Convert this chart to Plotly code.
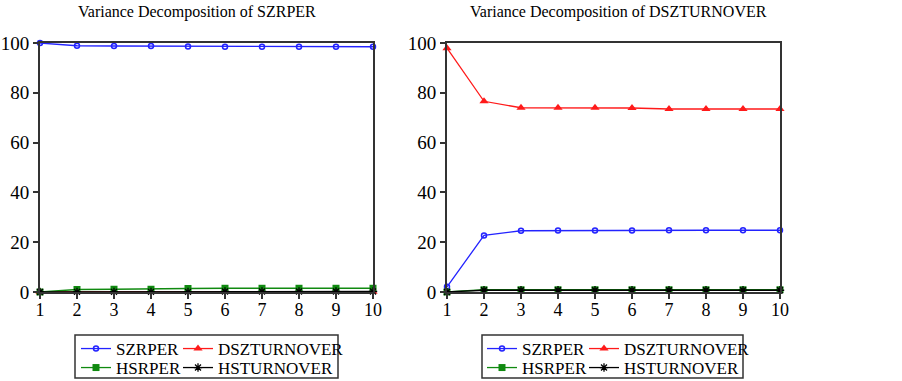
import plotly.graph_objects as go

periods = [1, 2, 3, 4, 5, 6, 7, 8, 9, 10]
series_names = ["SZRPER", "DSZTURNOVER", "HSRPER", "HSTURNOVER"]

# Variance decomposition of SZRPER
szr_szrper = [100.0, 98.9, 98.8, 98.8, 98.6, 98.5, 98.5, 98.5, 98.5, 98.5]
szr_dszturnover = [0.0, 0.05, 0.1, 0.1, 0.1, 0.1, 0.1, 0.1, 0.1, 0.1]
szr_hsrper = [0.0, 1.0, 1.1, 1.1, 1.4, 1.5, 1.5, 1.5, 1.5, 1.5]
szr_hsturnover = [0.0, 0.05, 0.05, 0.05, 0.05, 0.2, 0.2, 0.2, 0.2, 0.2]

# Variance decomposition of DSZTURNOVER
dsz_szrper = [2.1, 22.7, 24.6, 24.7, 24.7, 24.7, 24.8, 24.8, 24.8, 24.8]
dsz_dszturnover = [97.9, 76.6, 74.0, 74.0, 74.0, 73.9, 73.5, 73.5, 73.5, 73.5]
dsz_hsrper = [0.0, 0.9, 0.9, 0.9, 0.9, 0.9, 0.9, 0.9, 0.9, 0.9]
dsz_hsturnover = [0.0, 0.7, 0.7, 0.7, 0.7, 0.7, 0.7, 0.7, 0.7, 0.7]

titles = ["Variance Decomposition of SZRPER", "Variance Decomposition of DSZTURNOVER"]
y_ticks = [0, 20, 40, 60, 80, 100]

W, H = 902, 381
FONT = "Liberation Serif, Times New Roman, serif"

def px_x(p):
    return p / W

def px_y(p):
    return (H - p) / H

styles = [
    dict(color="#2323ff", marker=dict(symbol="circle-open", size=5, color="#2323ff", line=dict(width=1.5, color="#2323ff"))),
    dict(color="#ff1a1a", marker=dict(symbol="triangle-up", size=8, color="#ff1a1a")),
    dict(color="#108a10", marker=dict(symbol="square", size=7, color="#108a10")),
    dict(color="#000000", marker=dict(symbol="asterisk-open", size=7, color="#000000", line=dict(width=1.3, color="#000000"))),
]

panels = [
    [szr_szrper, szr_dszturnover, szr_hsrper, szr_hsturnover],
    [dsz_szrper, dsz_dszturnover, dsz_hsrper, dsz_hsturnover],
]

fig = go.Figure()

# one legend per entry so that the 2x2 grid can be placed exactly
legend_ids = [["legend", "legend2", "legend3", "legend4"],
              ["legend5", "legend6", "legend7", "legend8"]]

for pi, panel in enumerate(panels):
    xa = "x" if pi == 0 else "x2"
    ya = "y" if pi == 0 else "y2"
    for si, vals in enumerate(panel):
        st = styles[si]
        fig.add_trace(go.Scatter(
            x=periods, y=vals, name=series_names[si], mode="lines+markers",
            line=dict(color=st["color"], width=1.3),
            marker=st["marker"], xaxis=xa, yaxis=ya,
            legend=legend_ids[pi][si], cliponaxis=False, showlegend=True,
            hoverinfo="skip",
        ))

ydom = [px_y(292), px_y(43)]
xdoms = [[px_x(40), px_x(373)], [px_x(447), px_x(780)]]

axis_common = dict(
    showline=True, linecolor="#333333", linewidth=2, mirror=True,
    ticks="outside", ticklen=5, tickcolor="#333333", tickwidth=1.5,
    showgrid=False, zeroline=False,
)
xfont = dict(family=FONT, size=18, color="black")
yfont = dict(family=FONT, size=19, color="black")

layout = dict(
    width=W, height=H, margin=dict(l=0, r=0, t=0, b=0, autoexpand=False),
    paper_bgcolor="white", plot_bgcolor="white", showlegend=True,
    font=dict(family=FONT, size=16, color="black"),
    xaxis=dict(domain=xdoms[0], range=[1, 10], tickvals=periods, anchor="y", tickfont=xfont, ticklabelstandoff=-5, **axis_common),
    yaxis=dict(domain=ydom, range=[0, 100], tickvals=y_ticks, anchor="x", tickfont=yfont, **axis_common),
    xaxis2=dict(domain=xdoms[1], range=[1, 10], tickvals=periods, anchor="y2", tickfont=xfont, ticklabelstandoff=-5, **axis_common),
    yaxis2=dict(domain=ydom, range=[0, 100], tickvals=y_ticks, anchor="x2", tickfont=yfont, **axis_common),
)

legend_common = dict(orientation="h", bgcolor="rgba(0,0,0,0)", borderwidth=0,
                     font=dict(family=FONT, size=17, color="black"), visible=True,
                     itemwidth=30, xanchor="left", yanchor="middle", tracegroupgap=0)
box_lefts = [76, 482]
col_offsets = [0, 102]
row_centers = [349, 368]
for pi in range(2):
    for si in range(4):
        key = legend_ids[pi][si]
        col = si % 2
        row = si // 2
        layout[key] = dict(x=px_x(box_lefts[pi] + col_offsets[col]), y=px_y(row_centers[row]), **legend_common)

fig.update_layout(**layout)

# legend boxes
for (x0, x1) in [(75, 338), (482, 743)]:
    fig.add_shape(type="rect", xref="paper", yref="paper",
                  x0=px_x(x0), x1=px_x(x1), y0=px_y(378), y1=px_y(335),
                  line=dict(color="#333333", width=1.5), fillcolor="rgba(0,0,0,0)")

# titles
title_centers = [197, 618]
for pi in range(2):
    fig.add_annotation(text=titles[pi], xref="paper", yref="paper",
                       x=px_x(title_centers[pi]), y=px_y(12),
                       xanchor="center", yanchor="middle", showarrow=False,
                       font=dict(family=FONT, size=16, color="black"))

fig.write_html("out.html", config={"displayModeBar": False},
               post_script="document.body.style.margin='0';document.body.style.overflow='hidden';")
